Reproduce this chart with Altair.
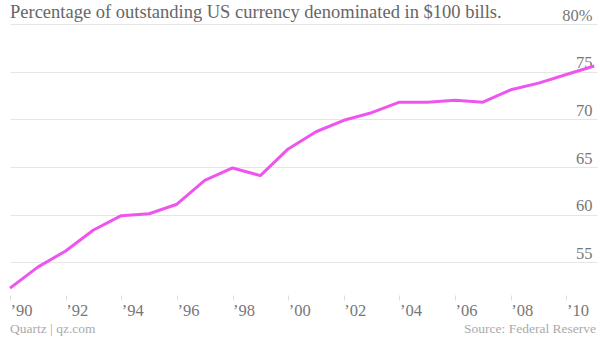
import altair as alt
import pandas as pd

years = [1990, 1991, 1992, 1993, 1994, 1995, 1996, 1997, 1998, 1999, 2000,
         2001, 2002, 2003, 2004, 2005, 2006, 2007, 2008, 2009, 2010, 2011]
share = [52.3, 54.5, 56.2, 58.4, 59.9, 60.1, 61.1, 63.6, 64.9, 64.1, 66.9,
         68.7, 69.9, 70.7, 71.8, 71.8, 72.0, 71.8, 73.1, 73.8, 74.7, 75.6]
x_ticks = [1990, 1992, 1994, 1996, 1998, 2000, 2002, 2004, 2006, 2008, 2010]
y_ticks = [55, 60, 65, 70, 75, 80]

title_text = "Percentage of outstanding US currency denominated in $100 bills."
credit_text = "Quartz | qz.com"
source_text = "Source: Federal Reserve"

df = pd.DataFrame({"year": years, "share": share})

SERIF = "Liberation Serif"
W, H = 587, 267

line = alt.Chart(df).mark_line(color="#ee55ee", strokeWidth=3, strokeJoin="round").encode(
    x=alt.X("year:Q",
            scale=alt.Scale(domain=[1990, 2011.1], nice=False, zero=False),
            axis=alt.Axis(values=x_ticks, format="d",
                          labelExpr="'\u2019' + substring(datum.label, 2)",
                          grid=False, domain=False, ticks=True, tickSize=5,
                          tickColor="#dddddd", offset=4, labelPadding=2,
                          labelAlign="left", labelBaseline="top",
                          labelFont=SERIF, labelFontSize=16.5, labelColor="#777777",
                          title=None)),
    y=alt.Y("share:Q",
            scale=alt.Scale(domain=[52, 80], nice=False, zero=False),
            axis=alt.Axis(values=y_ticks, orient="right",
                          labelExpr="datum.value == 80 ? '80%' : datum.label",
                          grid=True, gridColor="#e6e6e6", gridWidth=1,
                          domain=False, ticks=False, labelPadding=-5,
                          labelAlign="right", labelBaseline="alphabetic",
                          labelOffset=-4, labelFont=SERIF, labelFontSize=16.5,
                          labelColor="#777777", title=None)),
)

one = alt.Data(values=[{}])

title = alt.Chart(one).mark_text(align="left", baseline="alphabetic", font=SERIF,
                                 fontSize=18.5, color="#666666").encode(
    x=alt.value(0), y=alt.value(-6), text=alt.value(title_text))

credit = alt.Chart(one).mark_text(align="left", baseline="alphabetic", font=SERIF,
                                  fontSize=13.5, color="#aaaaaa").encode(
    x=alt.value(0), y=alt.value(309), text=alt.value(credit_text))

source = alt.Chart(one).mark_text(align="right", baseline="alphabetic", font=SERIF,
                                  fontSize=13.5, color="#aaaaaa").encode(
    x=alt.value(W - 1), y=alt.value(309), text=alt.value(source_text))

chart = alt.layer(line, title, credit, source).properties(
    width=W, height=H,
    autosize=alt.AutoSizeParams(type="none"),
    padding={"left": 10, "top": 24, "right": 3, "bottom": 47},
    background="white",
).configure_view(stroke=None)

chart.save("out.html", embed_options={"renderer": "svg", "actions": False})
